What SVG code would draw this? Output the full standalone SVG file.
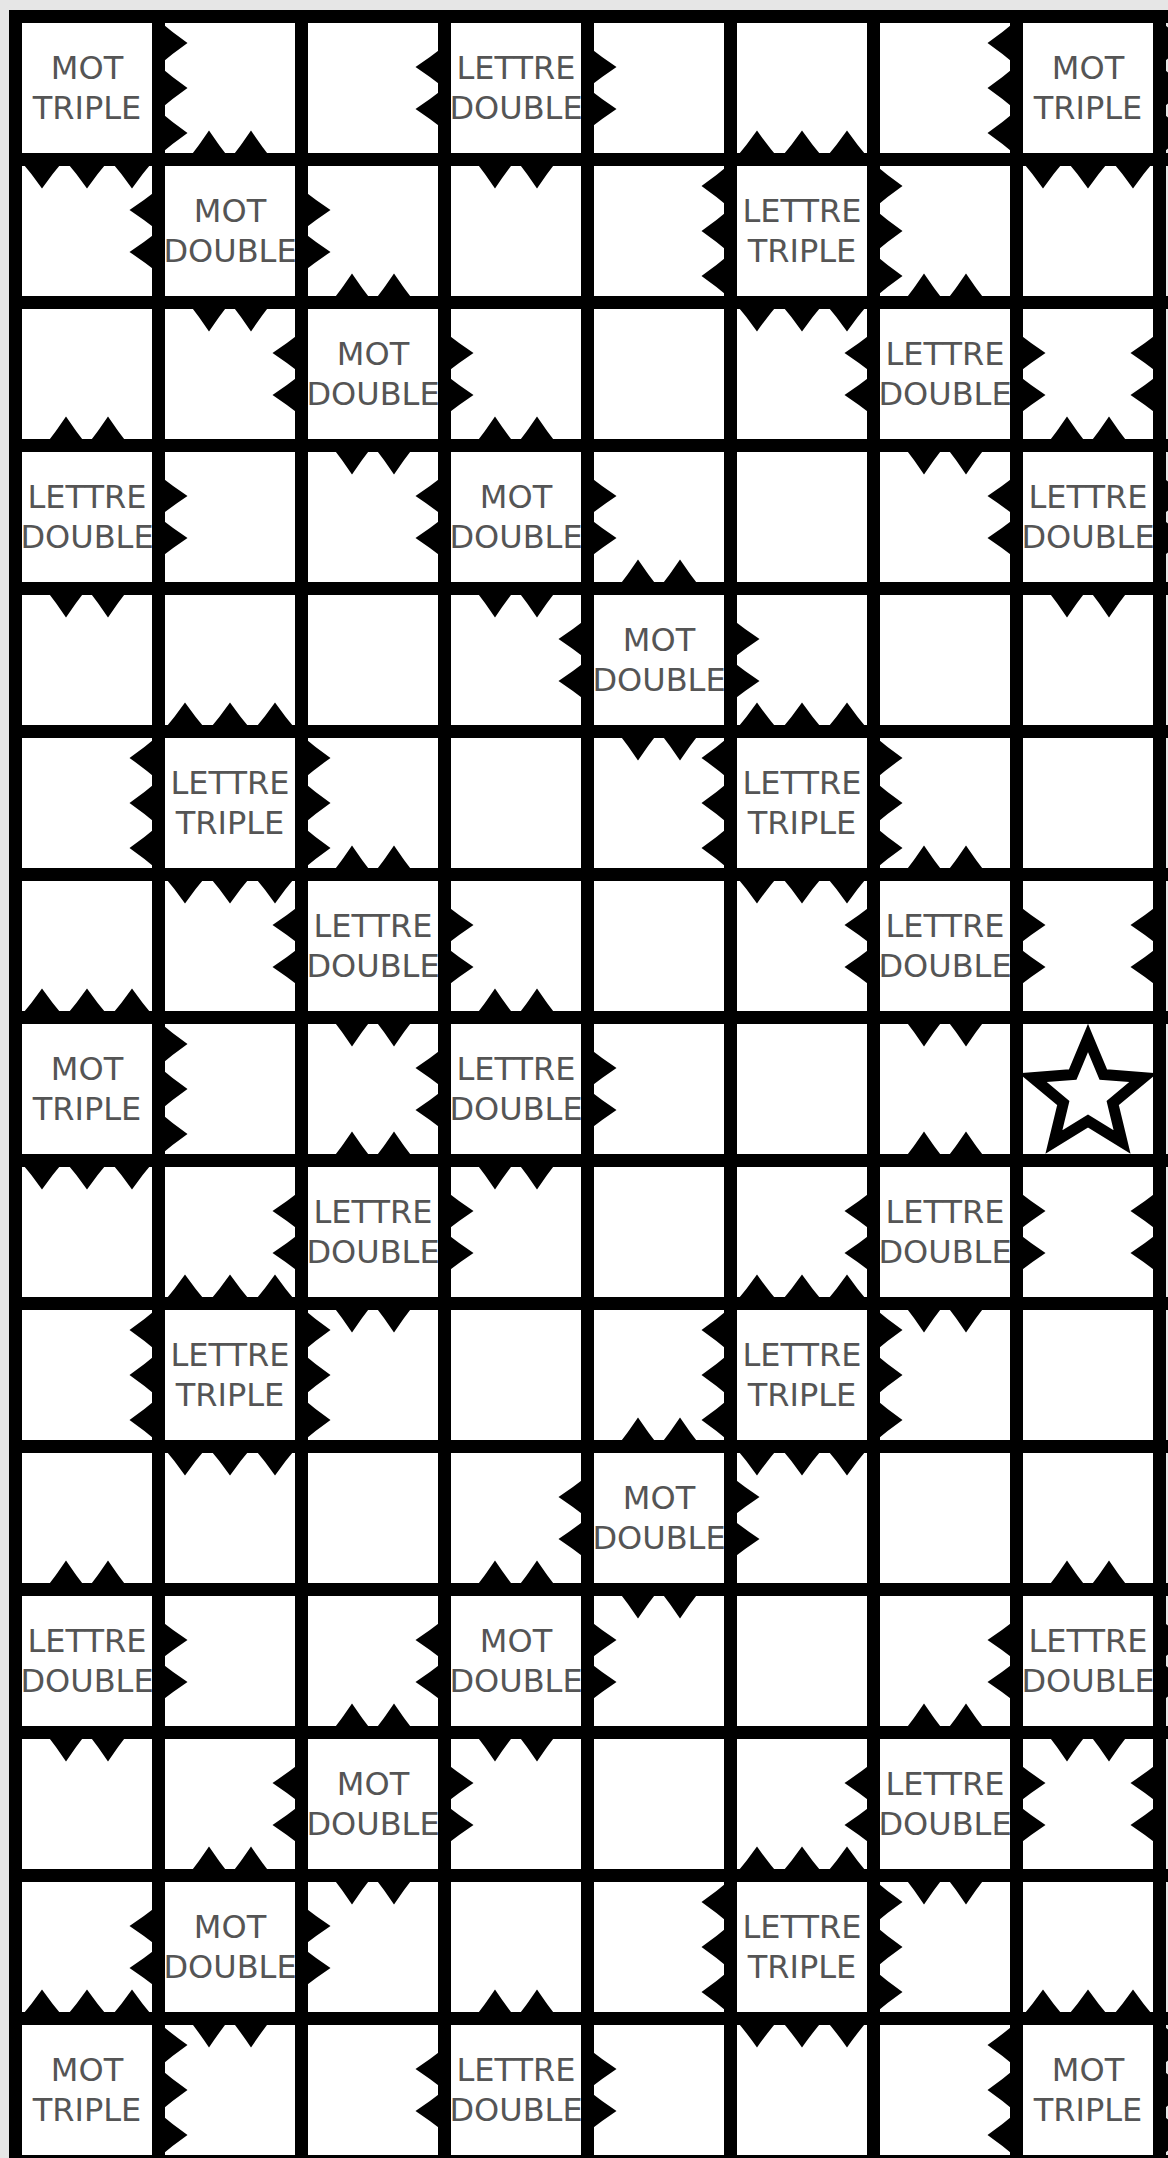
<svg xmlns="http://www.w3.org/2000/svg" xmlns:xlink="http://www.w3.org/1999/xlink" width="1168" height="2158" viewBox="0 0 1168 2158">
<style>
.lbl{font-family:"DejaVu Sans","Liberation Sans",sans-serif;font-size:32px;fill:#555;text-anchor:middle}
.grid{fill:none;stroke:#000;stroke-width:13}
.tooth{fill:#000}
.star{fill:#fff;stroke:#000;stroke-width:11;stroke-linejoin:miter}
</style>
<defs>
<path id="t3" class="tooth" d="M-67.5,0 Q-55.5,14 -45,29 Q-34.5,14 -22.5,0 Q-10.5,14 0,29 Q10.5,14 22.5,0 Q34.5,14 45,29 Q55.5,14 67.5,0 Z"/>
<path id="t2" class="tooth" d="M-42,0 Q-31,14 -21,29 Q-11,14 0,0 Q11,14 21,29 Q31,14 42,0 Z"/>
</defs>
<rect x="0" y="0" width="1168" height="2158" fill="#e6e6e6"/>
<rect x="15.5" y="16.5" width="1144" height="2145" fill="#fff"/>

<g id="sq-1-1"><text class="lbl" x="87" y="79">MOT</text><text class="lbl" x="87" y="119">TRIPLE</text>
<use href="#t3" transform="translate(87,159.5)"/><use href="#t3" transform="translate(158.5,88) rotate(-90)"/></g>
<g id="sq-1-4"><text class="lbl" x="516" y="79">LETTRE</text><text class="lbl" x="516" y="119">DOUBLE</text>
<use href="#t2" transform="translate(516,159.5)"/><use href="#t2" transform="translate(444.5,88) rotate(90)"/><use href="#t2" transform="translate(587.5,88) rotate(-90)"/></g>
<g id="sq-1-8"><text class="lbl" x="1088" y="79">MOT</text><text class="lbl" x="1088" y="119">TRIPLE</text>
<use href="#t3" transform="translate(1088,159.5)"/><use href="#t3" transform="translate(1016.5,88) rotate(90)"/><use href="#t3" transform="translate(1159.5,88) rotate(-90)"/></g>

<g id="sq-2-2"><text class="lbl" x="230" y="222">MOT</text><text class="lbl" x="230" y="262">DOUBLE</text>
<use href="#t2" transform="translate(230,159.5) rotate(180)"/><use href="#t2" transform="translate(230,302.5)"/><use href="#t2" transform="translate(158.5,231) rotate(90)"/><use href="#t2" transform="translate(301.5,231) rotate(-90)"/></g>
<g id="sq-2-6"><text class="lbl" x="802" y="222">LETTRE</text><text class="lbl" x="802" y="262">TRIPLE</text>
<use href="#t3" transform="translate(802,159.5) rotate(180)"/><use href="#t3" transform="translate(802,302.5)"/><use href="#t3" transform="translate(730.5,231) rotate(90)"/><use href="#t3" transform="translate(873.5,231) rotate(-90)"/></g>

<g id="sq-3-3"><text class="lbl" x="373" y="365">MOT</text><text class="lbl" x="373" y="405">DOUBLE</text>
<use href="#t2" transform="translate(373,302.5) rotate(180)"/><use href="#t2" transform="translate(373,445.5)"/><use href="#t2" transform="translate(301.5,374) rotate(90)"/><use href="#t2" transform="translate(444.5,374) rotate(-90)"/></g>
<g id="sq-3-7"><text class="lbl" x="945" y="365">LETTRE</text><text class="lbl" x="945" y="405">DOUBLE</text>
<use href="#t2" transform="translate(945,302.5) rotate(180)"/><use href="#t2" transform="translate(945,445.5)"/><use href="#t2" transform="translate(873.5,374) rotate(90)"/><use href="#t2" transform="translate(1016.5,374) rotate(-90)"/></g>
<g id="sq-3-9"><use href="#t2" transform="translate(1159.5,374) rotate(90)"/></g>

<g id="sq-4-1"><text class="lbl" x="87" y="508">LETTRE</text><text class="lbl" x="87" y="548">DOUBLE</text>
<use href="#t2" transform="translate(87,445.5) rotate(180)"/><use href="#t2" transform="translate(87,588.5)"/><use href="#t2" transform="translate(158.5,517) rotate(-90)"/></g>
<g id="sq-4-4"><text class="lbl" x="516" y="508">MOT</text><text class="lbl" x="516" y="548">DOUBLE</text>
<use href="#t2" transform="translate(516,445.5) rotate(180)"/><use href="#t2" transform="translate(516,588.5)"/><use href="#t2" transform="translate(444.5,517) rotate(90)"/><use href="#t2" transform="translate(587.5,517) rotate(-90)"/></g>
<g id="sq-4-8"><text class="lbl" x="1088" y="508">LETTRE</text><text class="lbl" x="1088" y="548">DOUBLE</text>
<use href="#t2" transform="translate(1088,445.5) rotate(180)"/><use href="#t2" transform="translate(1088,588.5)"/><use href="#t2" transform="translate(1016.5,517) rotate(90)"/><use href="#t2" transform="translate(1159.5,517) rotate(-90)"/></g>

<g id="sq-5-5"><text class="lbl" x="659" y="651">MOT</text><text class="lbl" x="659" y="691">DOUBLE</text>
<use href="#t2" transform="translate(659,588.5) rotate(180)"/><use href="#t2" transform="translate(659,731.5)"/><use href="#t2" transform="translate(587.5,660) rotate(90)"/><use href="#t2" transform="translate(730.5,660) rotate(-90)"/></g>

<g id="sq-6-2"><text class="lbl" x="230" y="794">LETTRE</text><text class="lbl" x="230" y="834">TRIPLE</text>
<use href="#t3" transform="translate(230,731.5) rotate(180)"/><use href="#t3" transform="translate(230,874.5)"/><use href="#t3" transform="translate(158.5,803) rotate(90)"/><use href="#t3" transform="translate(301.5,803) rotate(-90)"/></g>
<g id="sq-6-6"><text class="lbl" x="802" y="794">LETTRE</text><text class="lbl" x="802" y="834">TRIPLE</text>
<use href="#t3" transform="translate(802,731.5) rotate(180)"/><use href="#t3" transform="translate(802,874.5)"/><use href="#t3" transform="translate(730.5,803) rotate(90)"/><use href="#t3" transform="translate(873.5,803) rotate(-90)"/></g>

<g id="sq-7-3"><text class="lbl" x="373" y="937">LETTRE</text><text class="lbl" x="373" y="977">DOUBLE</text>
<use href="#t2" transform="translate(373,874.5) rotate(180)"/><use href="#t2" transform="translate(373,1017.5)"/><use href="#t2" transform="translate(301.5,946) rotate(90)"/><use href="#t2" transform="translate(444.5,946) rotate(-90)"/></g>
<g id="sq-7-7"><text class="lbl" x="945" y="937">LETTRE</text><text class="lbl" x="945" y="977">DOUBLE</text>
<use href="#t2" transform="translate(945,874.5) rotate(180)"/><use href="#t2" transform="translate(945,1017.5)"/><use href="#t2" transform="translate(873.5,946) rotate(90)"/><use href="#t2" transform="translate(1016.5,946) rotate(-90)"/></g>
<g id="sq-7-9"><use href="#t2" transform="translate(1159.5,946) rotate(90)"/></g>

<g id="sq-8-1"><text class="lbl" x="87" y="1080">MOT</text><text class="lbl" x="87" y="1120">TRIPLE</text>
<use href="#t3" transform="translate(87,1017.5) rotate(180)"/><use href="#t3" transform="translate(87,1160.5)"/><use href="#t3" transform="translate(158.5,1089) rotate(-90)"/></g>
<g id="sq-8-4"><text class="lbl" x="516" y="1080">LETTRE</text><text class="lbl" x="516" y="1120">DOUBLE</text>
<use href="#t2" transform="translate(516,1017.5) rotate(180)"/><use href="#t2" transform="translate(516,1160.5)"/><use href="#t2" transform="translate(444.5,1089) rotate(90)"/><use href="#t2" transform="translate(587.5,1089) rotate(-90)"/></g>
<g id="sq-8-8"><path class="star" d="M1088,1038 L1103.3,1074.6 L1143.2,1077.6 L1112.7,1103.0 L1122.1,1142.0 L1088,1121 L1053.9,1142.0 L1063.3,1103.0 L1032.8,1077.6 L1072.7,1074.6 Z"/></g>

<g id="sq-9-3"><text class="lbl" x="373" y="1223">LETTRE</text><text class="lbl" x="373" y="1263">DOUBLE</text>
<use href="#t2" transform="translate(373,1160.5) rotate(180)"/><use href="#t2" transform="translate(373,1303.5)"/><use href="#t2" transform="translate(301.5,1232) rotate(90)"/><use href="#t2" transform="translate(444.5,1232) rotate(-90)"/></g>
<g id="sq-9-7"><text class="lbl" x="945" y="1223">LETTRE</text><text class="lbl" x="945" y="1263">DOUBLE</text>
<use href="#t2" transform="translate(945,1160.5) rotate(180)"/><use href="#t2" transform="translate(945,1303.5)"/><use href="#t2" transform="translate(873.5,1232) rotate(90)"/><use href="#t2" transform="translate(1016.5,1232) rotate(-90)"/></g>
<g id="sq-9-9"><use href="#t2" transform="translate(1159.5,1232) rotate(90)"/></g>

<g id="sq-10-2"><text class="lbl" x="230" y="1366">LETTRE</text><text class="lbl" x="230" y="1406">TRIPLE</text>
<use href="#t3" transform="translate(230,1303.5) rotate(180)"/><use href="#t3" transform="translate(230,1446.5)"/><use href="#t3" transform="translate(158.5,1375) rotate(90)"/><use href="#t3" transform="translate(301.5,1375) rotate(-90)"/></g>
<g id="sq-10-6"><text class="lbl" x="802" y="1366">LETTRE</text><text class="lbl" x="802" y="1406">TRIPLE</text>
<use href="#t3" transform="translate(802,1303.5) rotate(180)"/><use href="#t3" transform="translate(802,1446.5)"/><use href="#t3" transform="translate(730.5,1375) rotate(90)"/><use href="#t3" transform="translate(873.5,1375) rotate(-90)"/></g>

<g id="sq-11-5"><text class="lbl" x="659" y="1509">MOT</text><text class="lbl" x="659" y="1549">DOUBLE</text>
<use href="#t2" transform="translate(659,1446.5) rotate(180)"/><use href="#t2" transform="translate(659,1589.5)"/><use href="#t2" transform="translate(587.5,1518) rotate(90)"/><use href="#t2" transform="translate(730.5,1518) rotate(-90)"/></g>

<g id="sq-12-1"><text class="lbl" x="87" y="1652">LETTRE</text><text class="lbl" x="87" y="1692">DOUBLE</text>
<use href="#t2" transform="translate(87,1589.5) rotate(180)"/><use href="#t2" transform="translate(87,1732.5)"/><use href="#t2" transform="translate(158.5,1661) rotate(-90)"/></g>
<g id="sq-12-4"><text class="lbl" x="516" y="1652">MOT</text><text class="lbl" x="516" y="1692">DOUBLE</text>
<use href="#t2" transform="translate(516,1589.5) rotate(180)"/><use href="#t2" transform="translate(516,1732.5)"/><use href="#t2" transform="translate(444.5,1661) rotate(90)"/><use href="#t2" transform="translate(587.5,1661) rotate(-90)"/></g>
<g id="sq-12-8"><text class="lbl" x="1088" y="1652">LETTRE</text><text class="lbl" x="1088" y="1692">DOUBLE</text>
<use href="#t2" transform="translate(1088,1589.5) rotate(180)"/><use href="#t2" transform="translate(1088,1732.5)"/><use href="#t2" transform="translate(1016.5,1661) rotate(90)"/><use href="#t2" transform="translate(1159.5,1661) rotate(-90)"/></g>

<g id="sq-13-3"><text class="lbl" x="373" y="1795">MOT</text><text class="lbl" x="373" y="1835">DOUBLE</text>
<use href="#t2" transform="translate(373,1732.5) rotate(180)"/><use href="#t2" transform="translate(373,1875.5)"/><use href="#t2" transform="translate(301.5,1804) rotate(90)"/><use href="#t2" transform="translate(444.5,1804) rotate(-90)"/></g>
<g id="sq-13-7"><text class="lbl" x="945" y="1795">LETTRE</text><text class="lbl" x="945" y="1835">DOUBLE</text>
<use href="#t2" transform="translate(945,1732.5) rotate(180)"/><use href="#t2" transform="translate(945,1875.5)"/><use href="#t2" transform="translate(873.5,1804) rotate(90)"/><use href="#t2" transform="translate(1016.5,1804) rotate(-90)"/></g>
<g id="sq-13-9"><use href="#t2" transform="translate(1159.5,1804) rotate(90)"/></g>

<g id="sq-14-2"><text class="lbl" x="230" y="1938">MOT</text><text class="lbl" x="230" y="1978">DOUBLE</text>
<use href="#t2" transform="translate(230,1875.5) rotate(180)"/><use href="#t2" transform="translate(230,2018.5)"/><use href="#t2" transform="translate(158.5,1947) rotate(90)"/><use href="#t2" transform="translate(301.5,1947) rotate(-90)"/></g>
<g id="sq-14-6"><text class="lbl" x="802" y="1938">LETTRE</text><text class="lbl" x="802" y="1978">TRIPLE</text>
<use href="#t3" transform="translate(802,1875.5) rotate(180)"/><use href="#t3" transform="translate(802,2018.5)"/><use href="#t3" transform="translate(730.5,1947) rotate(90)"/><use href="#t3" transform="translate(873.5,1947) rotate(-90)"/></g>

<g id="sq-15-1"><text class="lbl" x="87" y="2081">MOT</text><text class="lbl" x="87" y="2121">TRIPLE</text>
<use href="#t3" transform="translate(87,2018.5) rotate(180)"/><use href="#t3" transform="translate(158.5,2090) rotate(-90)"/></g>
<g id="sq-15-4"><text class="lbl" x="516" y="2081">LETTRE</text><text class="lbl" x="516" y="2121">DOUBLE</text>
<use href="#t2" transform="translate(516,2018.5) rotate(180)"/><use href="#t2" transform="translate(444.5,2090) rotate(90)"/><use href="#t2" transform="translate(587.5,2090) rotate(-90)"/></g>
<g id="sq-15-8"><text class="lbl" x="1088" y="2081">MOT</text><text class="lbl" x="1088" y="2121">TRIPLE</text>
<use href="#t3" transform="translate(1088,2018.5) rotate(180)"/><use href="#t3" transform="translate(1016.5,2090) rotate(90)"/><use href="#t3" transform="translate(1159.5,2090) rotate(-90)"/></g>

<g id="grid-lines">
<path class="grid" d="M15.5,10 V2168 M158.5,10 V2168 M301.5,10 V2168 M444.5,10 V2168 M587.5,10 V2168 M730.5,10 V2168 M873.5,10 V2168 M1016.5,10 V2168 M1159.5,10 V2168"/>
<path class="grid" d="M9,16.5 H1168 M9,159.5 H1168 M9,302.5 H1168 M9,445.5 H1168 M9,588.5 H1168 M9,731.5 H1168 M9,874.5 H1168 M9,1017.5 H1168 M9,1160.5 H1168 M9,1303.5 H1168 M9,1446.5 H1168 M9,1589.5 H1168 M9,1732.5 H1168 M9,1875.5 H1168 M9,2018.5 H1168 M9,2161.5 H1168"/>
</g>
</svg>
